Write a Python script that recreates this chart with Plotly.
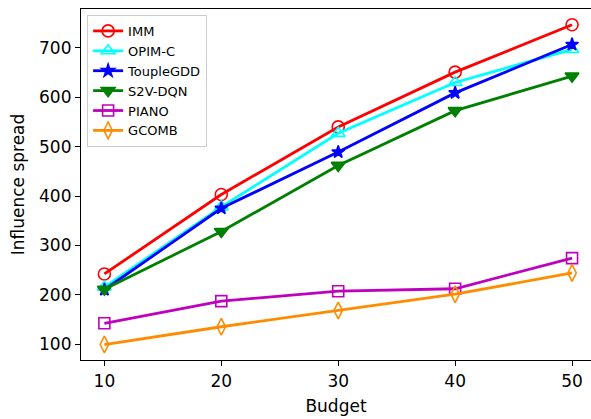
import plotly.graph_objects as go

budget = [10, 20, 30, 40, 50]
imm = [242, 403, 540, 651, 747]
opim_c = [215, 378, 527, 630, 697]
touple_gdd = [210, 375, 489, 609, 707]
s2v_dqn = [211, 328, 462, 573, 643]
piano = [142, 187, 207, 212, 274]
gcomb = [99, 135, 168, 201, 244]
y_ticks = [100, 200, 300, 400, 500, 600, 700]
x_ticks = [10, 20, 30, 40, 50]

series = [
    ("IMM", imm, "red", "circle-open", 12),
    ("OPIM-C", opim_c, "cyan", "triangle-up-open", 12),
    ("ToupleGDD", touple_gdd, "blue", "star", 9.5),
    ("S2V-DQN", s2v_dqn, "green", "triangle-down", 12),
    ("PIANO", piano, "#bf00bf", "square-open", 11),
    ("GCOMB", gcomb, "darkorange", "diamond-tall-open", 12),
]

fig = go.Figure()
for name, vals, color, sym, sz in series:
    fig.add_trace(go.Scatter(
        x=budget, y=vals, name=name, mode="lines+markers",
        line=dict(color=color, width=2.8),
        marker=dict(symbol=sym, size=sz, color=color, line=dict(color=color, width=1.6)),
    ))

font_family = "DejaVu Sans"
fig.update_layout(
    width=591, height=419,
    margin=dict(l=81, r=0, t=9, b=59),
    paper_bgcolor="white", plot_bgcolor="white",
    font=dict(family=font_family, size=17, color="black"),
    showlegend=True,
    legend=dict(
        x=0.012, y=0.983, xanchor="left", yanchor="top",
        bgcolor="rgba(255,255,255,0.8)", bordercolor="#cccccc", borderwidth=1,
        font=dict(family=font_family, size=13, color="black"),
        tracegroupgap=0,
    ),
    xaxis=dict(
        range=[8, 51.62], tickvals=x_ticks, ticks="outside", ticklen=5,
        tickcolor="black", showline=True, linecolor="black", linewidth=1.2,
        mirror=True, showgrid=False, zeroline=False,
        title=dict(text="Budget", font=dict(size=17), standoff=10),
        tickfont=dict(size=17),
    ),
    yaxis=dict(
        range=[67.6, 779], tickvals=y_ticks, ticks="outside", ticklen=5,
        tickcolor="black", showline=True, linecolor="black", linewidth=1.2,
        mirror=True, showgrid=False, zeroline=False,
        title=dict(text="Influence spread", font=dict(size=17), standoff=10),
        tickfont=dict(size=17),
    ),
)

fig.write_html("out.html")
